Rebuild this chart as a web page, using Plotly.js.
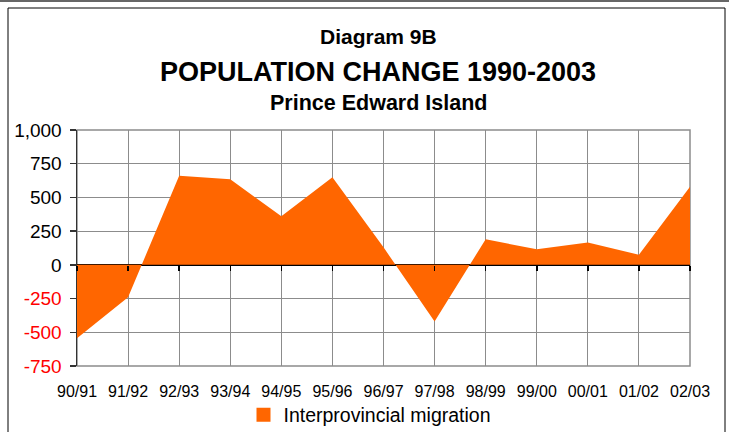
<!DOCTYPE html>
<html><head><meta charset="utf-8">
<script src="https://cdn.plot.ly/plotly-3.0.1.min.js"></script>
<style>html,body{margin:0;padding:0;background:#fff}#chart{width:729px;height:432px}</style>
</head><body><div id="chart"></div>
<script>
const seasons = ['90/91','91/92','92/93','93/94','94/95','95/96','96/97','97/98','98/99','99/00','00/01','01/02','02/03'];
const migration = [-545, -240, 660, 635, 360, 650, 130, -420, 190, 115, 165, 75, 580];
const yTickValues = [-750, -500, -250, 0, 250, 500, 750, 1000];
const yTickLabels = ['-750', '-500', '-250', '0', '250', '500', '750', '1,000'];
const seriesName = 'Interprovincial migration';
const titleLines = ['Diagram 9B', 'POPULATION CHANGE 1990-2003', 'Prince Edward Island'];

const orange = '#FF6600';
const gridColor = '#8c8c8c';
const font = 'Liberation Sans, Arial, sans-serif';

const yText = yTickValues.map((v, i) => v < 0 ? '<span style="color:#FF0000">' + yTickLabels[i] + '</span>' : yTickLabels[i]);

// plot area in pixels
const L = 77, R = 690, T = 130, B = 366;
const W = R - L, H = B - T;
const px = x => (x - L) / W;
const py = y => (B - y) / H;

const traces = [
  {
    type: 'scatter', mode: 'lines', x: seasons, y: migration,
    fill: 'tozeroy', fillcolor: orange, line: {width: 0, color: orange},
    showlegend: false, hoverinfo: 'x+y'
  },
  {
    type: 'scatter', mode: 'markers', x: seasons, y: seasons.map(() => null),
    xaxis: 'x2', name: seriesName,
    marker: {symbol: 'square', size: 14, color: orange}, showlegend: true
  }
];

const layout = {
  width: 729, height: 432,
  margin: {l: L, r: 729 - R, t: T, b: 432 - B, pad: 0, autoexpand: false},
  paper_bgcolor: '#fff', plot_bgcolor: '#fff',
  font: {family: font, color: '#000'},
  showlegend: true,
  legend: {orientation: 'h', x: px(370), xanchor: 'center', y: py(415), yanchor: 'middle',
           font: {size: 19.5, family: font}, bgcolor: 'rgba(0,0,0,0)', itemwidth: 30},
  xaxis: {
    type: 'category', categoryarray: seasons, range: [0, seasons.length - 1],
    showgrid: true, gridcolor: gridColor, gridwidth: 1,
    ticks: '', showline: false, zeroline: false, ticklabelstandoff: 14,
    tickfont: {size: 16, family: font}, automargin: false
  },
  xaxis2: {
    type: 'category', categoryarray: seasons, range: [0, seasons.length - 1],
    overlaying: 'x', anchor: 'free', position: py(265), side: 'bottom',
    ticks: 'outside', ticklen: 5, tickcolor: '#000', tickwidth: 1.5,
    showticklabels: false, showgrid: false, showline: false, zeroline: false
  },
  yaxis: {
    range: [-750, 1000], tickmode: 'array', tickvals: yTickValues, ticktext: yText,
    showgrid: true, gridcolor: gridColor, gridwidth: 1,
    zeroline: true, zerolinecolor: '#000', zerolinewidth: 1.5,
    showline: true, linecolor: '#333', linewidth: 1.5,
    ticks: 'outside', ticklen: 6, tickcolor: '#333', tickwidth: 1.5,
    ticklabelstandoff: 4,
    tickfont: {size: 19, family: font, color: '#000'}, automargin: false
  },
  shapes: [
    {type: 'rect', xref: 'paper', yref: 'paper', x0: 0, x1: 1, y0: 0, y1: 1,
     line: {color: gridColor, width: 1.5}, layer: 'below'},
    {type: 'rect', xref: 'paper', yref: 'paper', x0: px(8), x1: px(725), y0: py(445), y1: py(8),
     line: {color: '#000', width: 1}},
    {type: 'line', xref: 'paper', yref: 'paper', x0: px(0), x1: px(729), y0: py(1), y1: py(1),
     line: {color: '#666', width: 2}}
  ],
  annotations: [
    {text: '<b>' + titleLines[0] + '</b>', xref: 'paper', yref: 'paper', x: px(378), y: py(37),
     showarrow: false, xanchor: 'center', yanchor: 'middle', font: {size: 21, family: font}},
    {text: '<b>' + titleLines[1] + '</b>', xref: 'paper', yref: 'paper', x: px(378), y: py(72),
     showarrow: false, xanchor: 'center', yanchor: 'middle', font: {size: 27, family: font}},
    {text: '<b>' + titleLines[2] + '</b>', xref: 'paper', yref: 'paper', x: px(378), y: py(103),
     showarrow: false, xanchor: 'center', yanchor: 'middle', font: {size: 21.5, family: font}}
  ]
};

Plotly.newPlot('chart', traces, layout, {displayModeBar: false, staticPlot: true});
</script></body></html>
